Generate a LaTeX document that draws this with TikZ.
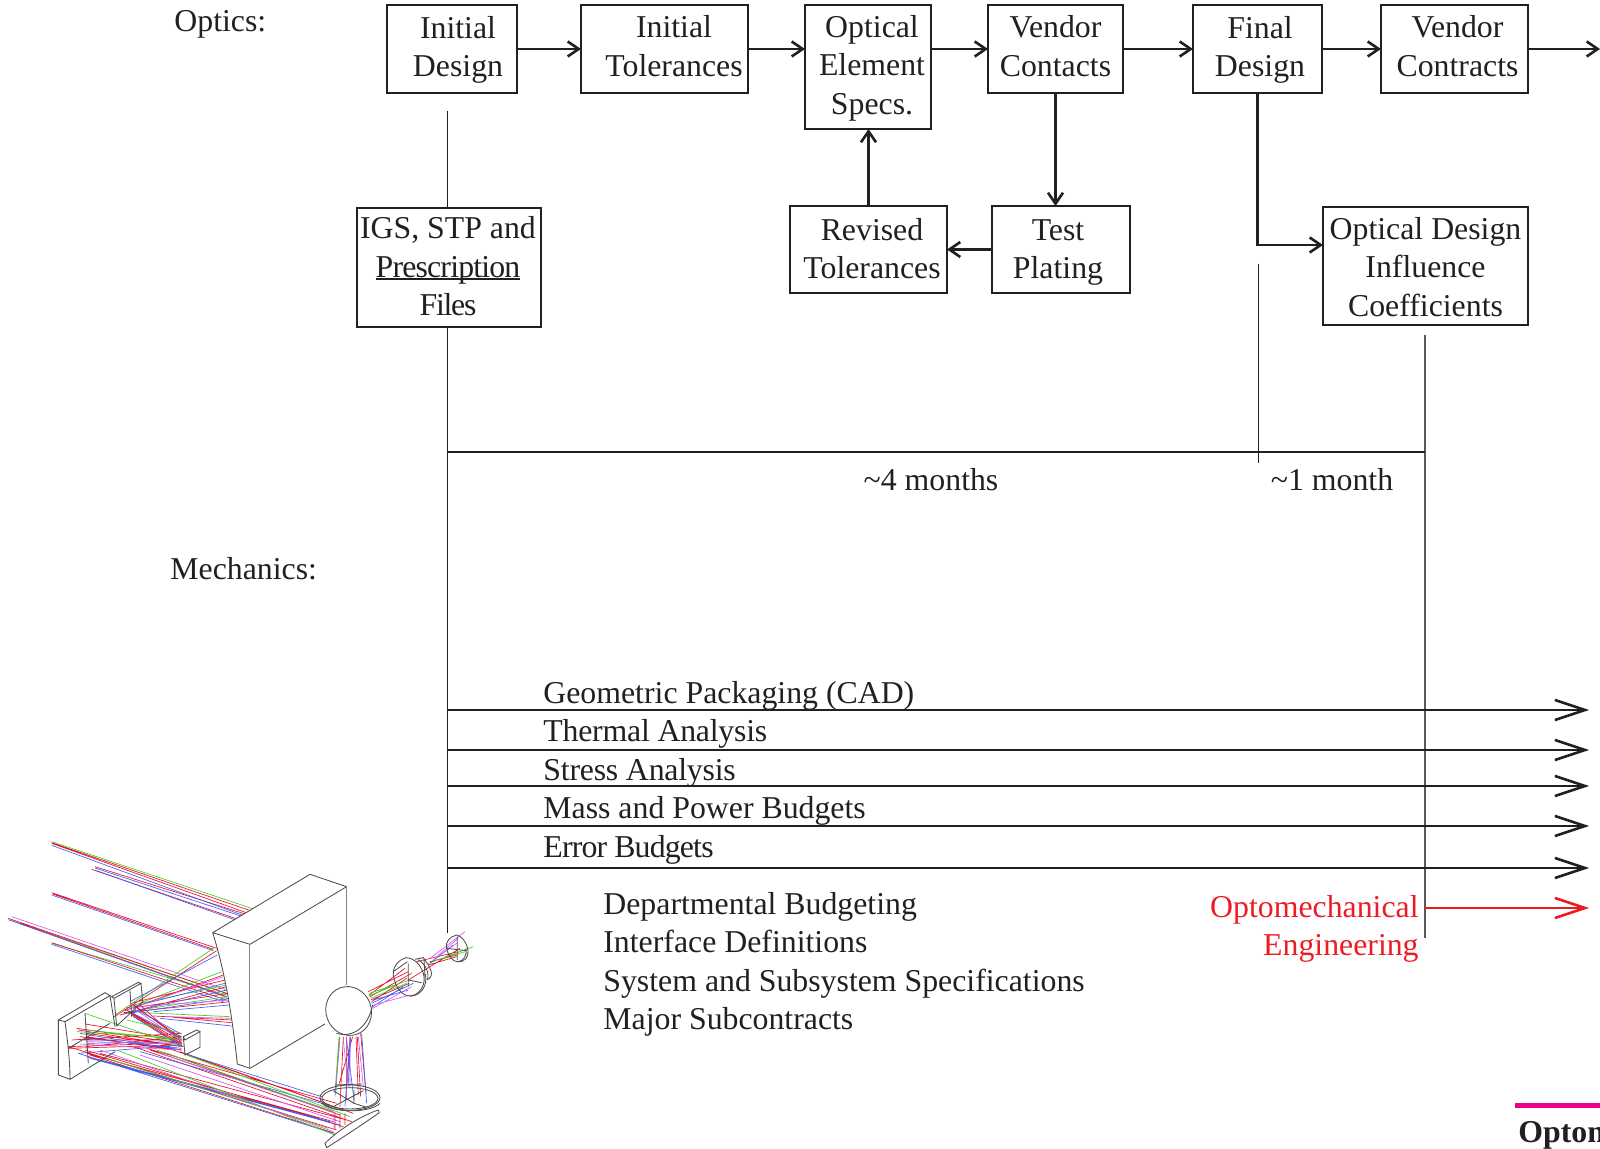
\documentclass[tikz,border=0pt]{standalone}
\usepackage{fontspec}
\setmainfont{Liberation Serif}
\usetikzlibrary{arrows.meta}
\definecolor{ink}{HTML}{231F20}
\definecolor{rg}{HTML}{40D020}
\definecolor{rr}{HTML}{E8102A}
\definecolor{rb}{HTML}{4060F0}
\definecolor{rm}{HTML}{D060F0}
\definecolor{ored}{HTML}{ED1C24}
\definecolor{mag}{HTML}{EC008C}
\newcommand\tight[2]{{\addfontfeature{LetterSpace=#1}#2}}
\newcommand\ulbar[1]{\setbox0\hbox{#1}\rlap{\rule[-1.2pt]{\wd0}{.7pt}}\box0}
\tikzset{
  bx/.style 2 args={draw=ink,line width=1.4pt,minimum width=#1*.5pt,minimum height=#2*.5pt,inner sep=0pt,outer sep=0pt},
  tx/.style={text=ink,align=center,font=\fontsize{15.9}{19.3}\selectfont,inner sep=0pt},
  lbl/.style={text=ink,font=\fontsize{15.9}{19.3}\selectfont,inner sep=0pt,anchor=base west},
  arr/.style={draw=ink,line width=1.3pt,-{Straight Barb[length=5.5pt,width=7.5pt,line width=1.3pt]}},
  long/.style={draw=ink,line width=1.3pt,-{Straight Barb[length=15pt,width=10pt,line width=1.3pt]}},
  thin/.style={draw=ink,line width=.6pt},
  thing/.style={draw=ink!75,line width=.8pt},
  rayg/.style={draw=rg,line width=.33pt},
  rayr/.style={draw=rr,line width=.33pt},
  rayb/.style={draw=rb,line width=.33pt},
  raym/.style={draw=rm,line width=.33pt},
  part/.style={draw=ink!80,line width=.42pt},
  partw/.style={draw=ink!80,fill=white,line width=.42pt},
  edge/.style={draw=ink!55,line width=.5pt}
}
\begin{document}
\begin{tikzpicture}[x=.5pt,y=-.5pt]
\clip (0,0) rectangle (1600,1149);
% boxes
\node[bx={130}{88}] (id) at (452,49) {};
\node[tx] (idt) at (458,50) {Initial\\Design};
\node[bx={167}{88}] (it) at (664.5,49) {};
\node[tx] (itt) at (674,46) {Initial\\Tolerances};
\node[bx={126}{124}] (oe) at (868,67) {};
\node[tx] (oet) at (872,68) {Optical\\Element\\Specs.};
\node[bx={135}{88}] (vc) at (1055.5,49) {};
\node[tx] (vct) at (1055.5,46) {Vendor\\Contacts};
\node[bx={129}{88}] (fd) at (1257.5,49) {};
\node[tx] (fdt) at (1260,50) {Final\\Design};
\node[bx={147}{88}] (vk) at (1454.5,49) {};
\node[tx] (vkt) at (1457.5,46) {Vendor\\Contracts};
\node[bx={205}{118}] (od) at (1425.5,266) {};
\node[tx] (odt) at (1425.5,267) {Optical Design\\Influence\\Coefficients};
\node[bx={138}{87}] (tp) at (1061,249.5) {};
\node[tx] (tpt) at (1058,252.5) {Test\\Plating};
\node[bx={157}{87}] (rt) at (868.5,249.5) {};
\node[tx] (rtt) at (872,248.5) {Revised\\Tolerances};
\node[bx={184}{119}] (ig) at (449,267.5) {};
\node[tx] (igt) at (448,266.5) {IGS, STP and\\\ulbar{\tight{-2.6}{Prescription}}\\\tight{-4}{Files}};
% free ends
\coordinate (out) at (1600,49);
\coordinate (fork) at (1257.5,245);
\coordinate (a1) at (447.5,111);
\coordinate (a2) at (447.5,208);
\coordinate (a3) at (447.5,327);
\coordinate (a4) at (447.5,933);
\coordinate (b1) at (1258.5,264);
\coordinate (b2) at (1258.5,463);
\coordinate (c1) at (1425,335);
\coordinate (c2) at (1425,938);
\coordinate (h1) at (447.5,452);
\coordinate (h2) at (1425,452);
% flow arrows
\draw[arr] (id.east) -- (id.east -| it.west);
\draw[arr] (it.east) -- (it.east -| oe.west);
\draw[arr] (oe.east |- vc.west) -- (vc.west);
\draw[arr] (vc.east) -- (fd.west);
\draw[arr] (fd.east) -- (vk.west);
\draw[arr] (vk.east) -- (out);
\draw[arr] (vc.south) -- (vc.south |- tp.north);
\draw[arr] (tp.west) -- (rt.east);
\draw[arr] (rt.north) -- (rt.north |- oe.south);
\draw[arr] (fd.south) -- (fork) -- (fork -| od.west);
% timeline
\draw[thin] (a1) -- (a2);
\draw[thin] (a3) -- (a4);
\draw[thin] (b1) -- (b2);
\draw[thing] (c1) -- (c2);
\draw[thin] (h1) -- (h2);
% mechanics arrows
\foreach \n/\yy in {1/710,2/750,3/786,4/826,5/868}{
  \coordinate (ms\n) at (447.5,\yy);
  \coordinate (me\n) at (1589,\yy);
  \draw[long] (ms\n) -- (me\n);
}
\coordinate (rs) at (1425,908);
\coordinate (re) at (1589,908);
\draw[long,draw=ored] (rs) -- (re);
% labels
\node[lbl] (l1) at (174,32) {Optics:};
\node[lbl] (l2) at (170,579) {Mechanics:};
\node[tx,anchor=base] (l3) at (931,491) {\textasciitilde 4 months};
\node[tx,anchor=base] (l4) at (1332,491) {\textasciitilde 1 month};
\node[lbl] (g1) at (543,703) {Geometric Packaging (CAD)};
\node[lbl] (g2) at (543,741) {\tight{-.7}{Thermal Analysis}};
\node[lbl] (g3) at (543,780) {\tight{-.7}{Stress Analysis}};
\node[lbl] (g4) at (543,818) {Mass and Power Budgets};
\node[lbl] (g5) at (543,857) {\tight{-2.6}{Error Budgets}};
\node[lbl] (d1) at (603,914) {Departmental Budgeting};
\node[lbl] (d2) at (603,952) {Interface Definitions};
\node[lbl] (d3) at (603,991) {System and Subsystem Specifications};
\node[lbl] (d4) at (603,1029) {Major Subcontracts};
\node[lbl,anchor=base east,text=ored] (o1) at (1419,917) {Optomechanical};
\node[lbl,anchor=base east,text=ored] (o2) at (1419,955) {Engineering};
% footer
\fill[mag] (1515,1102.5) rectangle (1600,1107.5);
\node[lbl,font=\fontsize{15.9}{19.3}\selectfont\bfseries] (ft) at (1518,1142) {Optom};
% optical layout: coordinates are those of a 3x crop
\begin{scope}[shift={(0,820)},x=.5pt/3,y=-.5pt/3]
% incoming beams
\draw[rayg] (155,65)--(770,270) (155,370)--(680,525) (30,300)--(680,520);
\draw[rayr] (155,68)--(760,275) (155,70)--(750,282) (285,140)--(745,285) (275,148)--(720,300)
  (155,218)--(650,385) (158,222)--(640,388) (25,295)--(685,522) (155,368)--(680,540) (60,310)--(680,530);
\draw[rayb] (155,76)--(740,290) (285,144)--(735,292) (290,152)--(712,302) (155,225)--(640,392)
  (25,299)--(680,532) (155,373)--(670,545);
\draw[raym] (35,290)--(680,510);
% from primary to folds
\draw[rayg] (640,385)--(345,585) (665,455)--(380,565) (680,495)--(400,555) (690,590)--(430,578) (680,530)--(385,575);
\draw[rayr] (650,392)--(340,592) (670,465)--(375,572) (680,500)--(360,585) (685,520)--(390,565)
  (690,545)--(370,578) (695,600)--(460,588) (695,608)--(520,592) (675,480)--(400,548);
\draw[rayb] (652,405)--(390,545) (675,490)--(400,560) (688,535)--(385,580) (695,618)--(480,595)
  (690,555)--(460,575) (680,510)--(370,582);
\draw[raym] (670,470)--(380,570) (690,540)--(410,560) (695,595)--(500,590);
% between folds
\draw[rayr] (395,550)--(545,660) (385,575)--(545,672) (405,560)--(540,650) (395,585)--(550,680)
  (420,555)--(545,668) (425,600)--(545,650) (380,570)--(540,662) (230,625)--(545,670)
  (255,612)--(548,660) (205,680)--(545,668) (260,640)--(545,680) (215,660)--(545,640)
  (240,650)--(545,690) (250,660)--(540,660) (205,685)--(540,675) (260,680)--(545,650)
  (235,630)--(550,680) (260,650)--(520,690);
\draw[rayb] (390,575)--(545,655) (400,590)--(545,680) (410,570)--(540,640) (240,640)--(545,690)
  (260,655)--(545,685) (235,700)--(545,675) (260,670)--(540,665);
\draw[rayg] (255,580)--(545,680) (230,635)--(540,655) (380,600)--(545,640) (260,630)--(545,660);
\draw[raym] (400,565)--(545,662) (260,665)--(545,672) (240,672)--(540,690);
% fold to tertiary
\draw[rayr] (205,680)--(1010,930) (255,690)--(1030,920) (260,700)--(1000,905) (400,680)--(1055,905)
  (440,685)--(1010,850) (540,695)--(990,855) (450,690)--(1000,875) (300,700)--(1040,900)
  (260,710)--(960,895) (500,700)--(1020,885) (520,690)--(1060,880) (270,705)--(1005,940);
\draw[rayb] (235,700)--(1000,940) (270,715)--(1020,915) (550,700)--(965,830) (420,695)--(1000,860)
  (300,720)--(990,905);
\draw[rayg] (350,690)--(1005,945) (470,690)--(1000,875) (560,705)--(1050,890) (320,715)--(985,925);
\draw[raym] (300,690)--(1000,935) (480,700)--(1010,880) (420,705)--(1020,905);
% tertiary up to fold
\draw[rayg] (1017,650)--(1005,820) (1019,650)--(1007,825);
\draw[rayr] (1030,650)--(1020,860) (1040,650)--(1040,835) (1058,650)--(1018,790) (1068,650)--(1075,825) (1072,650)--(1082,830) (1082,640)--(1098,820) (1052,650)--(1040,800)
  (1020,880)--(1020,925) (1035,880)--(1035,915) (1005,880)--(1005,930);
\draw[rayb] (1085,640)--(1100,850) (1050,650)--(1035,860) (1040,660)--(1062,840) (1052,655)--(1045,790);
\draw[raym] (1020,655)--(1005,830) (1050,660)--(1050,800) (1075,650)--(1090,800) (1030,660)--(1045,800) (1002,880)--(1002,925);
% toward the focus
\draw[rayr] (1105,515)--(1225,455) (1110,530)--(1235,460) (1115,545)--(1220,475) (1108,525)--(1215,445) (1112,540)--(1228,490) (1225,480)--(1290,440) (1250,425)--(1375,395) (1285,435)--(1370,410) (1290,440)--(1380,385) (1290,425)--(1372,405);
\draw[rayg] (1108,520)--(1230,480) (1112,535)--(1220,490) (1106,528)--(1200,490) (1285,430)--(1420,380) (1295,425)--(1395,395);
\draw[rayb] (1115,550)--(1240,490) (1120,540)--(1225,510) (1118,560)--(1210,500) (1290,430)--(1360,375);
\draw[raym] (1118,565)--(1235,500) (1120,555)--(1230,525) (1290,415)--(1395,335) (1300,420)--(1370,370) (1310,410)--(1375,355);
% primary block
\path[fill=white] (638,338) -- (930,163) -- (1040,200) -- (1040,495) -- (975,612) -- (750,745) -- (712,732) .. controls (700,620) and (680,470) .. cycle;
\draw[part] (638,338) -- (930,163) -- (1040,200) (638,338) -- (750,373) -- (1040,200) (975,612) -- (750,745) -- (712,732) .. controls (700,620) and (680,470) .. (638,338);
\draw[edge] (1040,200) -- (1040,495) (750,373) -- (750,745);
% secondary disc
\draw[partw,rotate around={20:(1046,573)}] (1046,573) ellipse (68 and 74);
\draw[part] (1010,640) .. controls (1060,655) and (1105,620) .. (1118,555);
% lens group
\draw[part] (1218,413) .. controls (1195,420) and (1178,440) .. (1180,465) .. controls (1185,500) and (1205,528) .. (1230,528) .. controls (1262,525) and (1280,490) .. (1270,460) .. controls (1262,435) and (1245,415) .. cycle;
\draw[part] (1230,528) .. controls (1258,530) and (1285,500) .. (1276,462);
\draw[part] (1225,430)--(1225,500) (1180,455)--(1222,425) (1225,480)--(1265,488);
\draw[part] (1245,418)--(1270,413) .. controls (1290,440) and (1305,465) .. (1285,478) (1272,414)--(1275,470) (1255,420) .. controls (1275,430) and (1290,460) .. (1282,480);
\draw[part] (1370,345) .. controls (1350,350) and (1335,365) .. (1340,385) .. controls (1345,410) and (1360,425) .. (1372,425) .. controls (1395,428) and (1408,410) .. (1403,385) .. controls (1398,365) and (1385,348) .. cycle;
\draw[part] (1372,425) .. controls (1392,425) and (1402,405) .. (1398,385);
\draw[part] (1372,350)--(1372,420) (1340,385)--(1400,392);
% tertiary disc and its fold
\draw[part] (1050,833) ellipse (90 and 38);
\draw[part] (1050,835) ellipse (84 and 32);
\draw[part] (1000,812)--(1062,850)--(1100,862) (1090,812)--(1000,860) (1062,850)--(1062,810) (1005,795)--(1085,792) (965,850) .. controls (1000,880) and (1110,880) .. (1140,850);
\draw[part] (975,970) .. controls (1020,925) and (1090,885) .. (1135,870) (980,983) .. controls (1040,945) and (1100,905) .. (1138,878) (975,970)--(980,983) (1135,870)--(1138,878);
% fold mirrors
\draw[part] (175,600)--(315,518)--(330,527)--(195,605)--cycle (175,600)--(175,765)--(210,778)--(345,695) (195,605) .. controls (205,680) and (210,730) .. (210,778) (330,527)--(345,620) (205,685)--(330,610) (255,580)--(265,730);
\draw[part] (335,530)--(415,487)--(423,490)--(342,535)--cycle (342,535)--(350,618) (423,490)--(428,545)--(350,618) (390,512)--(395,590);
\draw[part] (550,650)--(590,630)--(600,635)--(555,660)--cycle (600,635)--(600,682)--(555,705)--(550,650);
\end{scope}
\end{tikzpicture}
\end{document}
